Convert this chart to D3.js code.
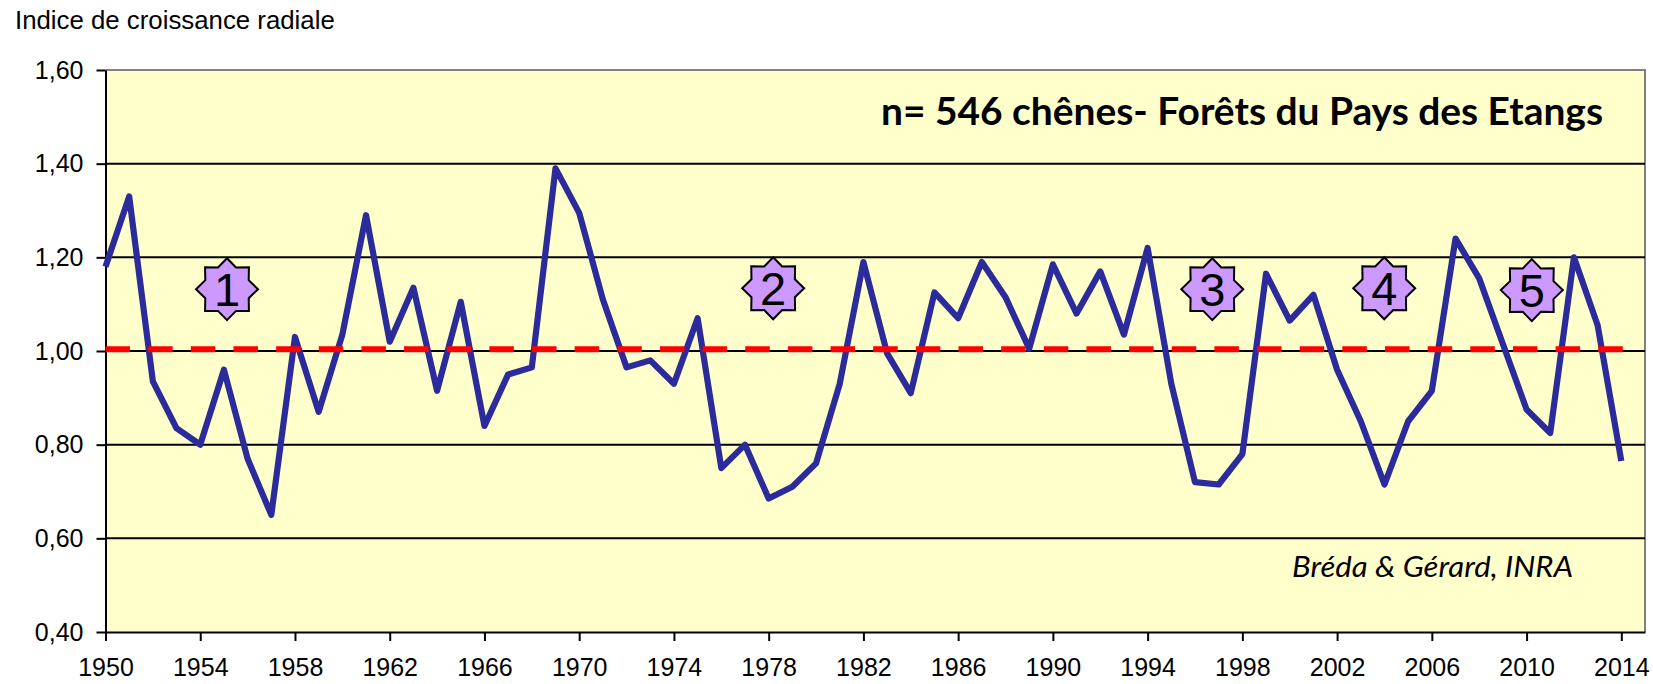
<!DOCTYPE html>
<html lang="fr">
<head>
    <meta charset="UTF-8">
    <title>Indice de croissance radiale</title>
    <script src="https://cdnjs.cloudflare.com/ajax/libs/d3/7.8.5/d3.min.js"></script>
    <style>
        html, body { margin: 0; padding: 0; background: #fff; }
        svg { display: block; }
        text { font-family: "Liberation Sans", Arial, sans-serif; fill: #000; }
        .axis path, .axis line { stroke: #000; stroke-width: 2px; }
        .axis text { font-size: 25px; }
        .grid { stroke: #000; stroke-width: 2px; }
        .frame { fill: none; stroke: #808080; stroke-width: 2px; }
        .series { fill: none; stroke: #2b2b9b; stroke-width: 6.2px; stroke-linejoin: round; }
        .reference { stroke: #ff0000; stroke-width: 6px; stroke-dasharray: 24.5 18.15; }
        .star { fill: #cc99ff; stroke: #000; stroke-width: 2px; }
        .star-label { font-size: 47px; text-anchor: middle; }
    </style>
</head>
<body>
    <div id="chart"></div>

    <script>
        // Values
        const years = d3.range(1950, 2015);
        const growthIndex = [
            1.18, 1.33, 0.935, 0.835, 0.80, 0.96, 0.77, 0.65, 1.03, 0.87,
            1.035, 1.29, 1.02, 1.135, 0.915, 1.105, 0.84, 0.95, 0.965, 1.39,
            1.295, 1.11, 0.965, 0.98, 0.93, 1.07, 0.75, 0.80, 0.685, 0.71,
            0.76, 0.93, 1.19, 0.995, 0.91, 1.125, 1.07, 1.19, 1.115, 1.005,
            1.185, 1.08, 1.17, 1.035, 1.22, 0.93, 0.72, 0.715, 0.78, 1.165,
            1.065, 1.12, 0.96, 0.85, 0.715, 0.85, 0.915, 1.24, 1.155, 1.015,
            0.875, 0.825, 1.20, 1.055, 0.765
        ];
        const referenceLevel = 1.004;
        const yTicks = [0.4, 0.6, 0.8, 1.0, 1.2, 1.4, 1.6];
        const xTicks = d3.range(1950, 2015, 4);
        const starLabels = ["1", "2", "3", "4", "5"];
        const starYears = [1955.13, 1978.19, 1996.73, 2003.99, 2010.22];
        const starLevels = [1.132, 1.134, 1.132, 1.134, 1.13];

        const width = 1653;
        const height = 684;
        const plotLeft = 105.5, plotRight = 1645, plotTop = 70, plotBottom = 632;

        const svg = d3.select("#chart").append("svg")
            .attr("width", width)
            .attr("height", height);

        // 2015 is the end of the plot area, the last year sits one step inside it
        const x = d3.scaleLinear().domain([1950, 2015]).range([plotLeft, plotRight]);
        const y = d3.scaleLinear().domain([0.4, 1.6]).range([plotBottom, plotTop]);

        const comma = d3.formatLocale({ decimal: ",", thousands: " ", grouping: [3], currency: ["", ""] }).format(".2f");

        // Plot background
        svg.append("rect")
            .attr("x", plotLeft)
            .attr("y", plotTop)
            .attr("width", plotRight - plotLeft)
            .attr("height", plotBottom - plotTop)
            .attr("fill", "#ffffcc");

        svg.append("path")
            .attr("class", "frame")
            .attr("d", `M${plotLeft},${plotTop}H${plotRight}V${plotBottom}`);

        svg.selectAll(".grid")
            .data(yTicks.slice(1, -1))
            .enter().append("line")
            .attr("class", "grid")
            .attr("x1", plotLeft)
            .attr("x2", plotRight)
            .attr("y1", d => y(d))
            .attr("y2", d => y(d));

        // Axes
        const yAxis = svg.append("g")
            .attr("class", "axis")
            .attr("transform", `translate(${plotLeft},0)`)
            .call(d3.axisLeft(y).tickValues(yTicks).tickFormat(comma).tickSize(9).tickSizeOuter(0));
        yAxis.selectAll("text").attr("x", -22);

        const xAxis = svg.append("g")
            .attr("class", "axis")
            .attr("transform", `translate(0,${plotBottom})`)
            .call(d3.axisBottom(x).tickValues(xTicks).tickFormat(d3.format("d")).tickSize(9).tickSizeOuter(0));
        xAxis.selectAll("text").attr("y", 26);

        // Series
        const line = d3.line()
            .x((d, i) => x(years[i]))
            .y(d => y(d));

        svg.append("path")
            .datum(growthIndex)
            .attr("class", "series")
            .attr("d", line);

        svg.append("line")
            .attr("class", "reference")
            .attr("x1", x(1950))
            .attr("x2", x(2014) + 5)
            .attr("y1", y(referenceLevel))
            .attr("y2", y(referenceLevel));

        // Numbered stars
        const starShape = d3.lineRadial()
            .angle((d, i) => i * Math.PI / 8)
            .radius((d, i) => i % 2 ? 23.5 : 31)
            .curve(d3.curveLinearClosed);

        const stars = svg.selectAll(".star-group")
            .data(starLabels)
            .enter().append("g")
            .attr("class", "star-group")
            .attr("transform", (d, i) => `translate(${x(starYears[i])},${y(starLevels[i])})`);

        stars.append("path")
            .attr("class", "star")
            .attr("d", starShape(d3.range(16)));

        stars.append("text")
            .attr("class", "star-label")
            .attr("y", 17)
            .text(d => d);

        // Texts
        svg.append("text")
            .attr("x", 15)
            .attr("y", 29)
            .style("font-size", "25.8px")
            .text("Indice de croissance radiale");

        svg.append("text")
            .attr("x", 881)
            .attr("y", 124.5)
            .attr("textLength", 722)
            .attr("lengthAdjust", "spacingAndGlyphs")
            .style("font-family", "Lato, sans-serif")
            .style("font-weight", "bold")
            .style("font-size", "38.5px")
            .text("n= 546 chênes- Forêts du Pays des Etangs");

        svg.append("text")
            .attr("x", 1292)
            .attr("y", 577)
            .attr("textLength", 281)
            .attr("lengthAdjust", "spacingAndGlyphs")
            .style("font-family", "Lato, sans-serif")
            .style("font-style", "italic")
            .style("font-size", "28px")
            .text("Bréda & Gérard, INRA");
    </script>
</body>
</html>
